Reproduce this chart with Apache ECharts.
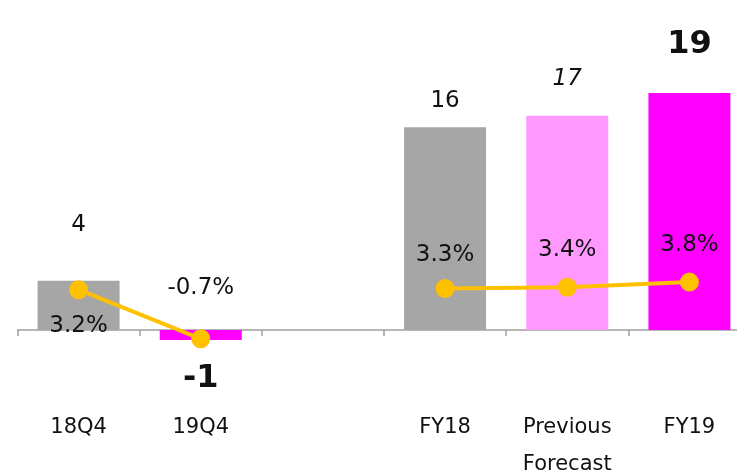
<!DOCTYPE html>
<html>
<head>
<meta charset="utf-8">
<script src="https://cdn.jsdelivr.net/npm/echarts@6/dist/echarts.min.js"></script>
<style>
  html, body { margin: 0; padding: 0; background: #fff; }
  #chart { width: 737px; height: 475px; }
</style>
</head>
<body>
<div id="chart"></div>
<script>
// data
var categories = ['18Q4', '19Q4', '', 'FY18', 'Previous\nForecast', 'FY19'];
var amounts = [3.9, -0.8, null, 16.1, 17.0, 18.8];
var ratios = [3.2, -0.7, null, 3.3, 3.4, 3.8];

// styles per bar
var barColors = ['#A6A6A6', '#FF00FF', '#A6A6A6', '#A6A6A6', '#FF99FF', '#FF00FF'];
var barLabelStyle = [
    { position: 'top', distance: 44 },
    { position: 'bottom', distance: 23, fontWeight: 'bold', fontSize: 32 },
    {},
    { position: 'top', distance: 15 },
    { position: 'top', distance: 25, fontStyle: 'italic' },
    { position: 'top', distance: 32, fontWeight: 'bold', fontSize: 32 }
];
var ratioLabelStyle = [
    { position: 'bottom', distance: 15 },
    { position: 'top', distance: 30 },
    {},
    { position: 'top', distance: 12 },
    { position: 'top', distance: 16 },
    { position: 'top', distance: 16 }
];

var font = 'DejaVu Sans';
var myChart = echarts.init(document.getElementById('chart'));

var barData = amounts.map(function (v, i) {
    return {
        value: v,
        itemStyle: { color: barColors[i] },
        label: barLabelStyle[i]
    };
});
var lineData = ratios.map(function (v, i) {
    return { value: v, label: ratioLabelStyle[i] };
});

var option = {
    animation: false,
    backgroundColor: '#fff',
    textStyle: { fontFamily: font },
    grid: {
        left: 17.5,
        right: -13.5,
        top: 27.6,
        height: 327.6,
        outerBoundsMode: 'none',
        containLabel: false
    },
    xAxis: {
        type: 'category',
        data: categories,
        axisLine: { onZero: true, lineStyle: { color: '#A0A0A0', width: 1.5 } },
        axisTick: { show: true, length: 6, lineStyle: { color: '#A0A0A0', width: 1.5 } },
        axisLabel: {
            margin: 54,
            color: '#111',
            fontSize: 21,
            lineHeight: 37,
            fontFamily: font,
            interval: 0
        },
        splitLine: { show: false }
    },
    yAxis: [{
        type: 'value',
        min: -2,
        max: 24,
        show: false
    }, {
        type: 'value',
        min: -2,
        max: 24,
        show: false
    }],
    series: [{
        name: 'amount',
        type: 'bar',
        yAxisIndex: 0,
        barWidth: 82,
        data: barData,
        label: {
            show: true,
            color: '#111',
            fontSize: 23,
            fontFamily: font,
            formatter: function (p) {
                return p.value == null ? '' : String(Math.round(p.value));
            }
        }
    }, {
        name: 'ratio',
        type: 'line',
        yAxisIndex: 1,
        data: lineData,
        connectNulls: false,
        symbol: 'circle',
        symbolSize: 19,
        itemStyle: { color: '#FFC000' },
        lineStyle: { color: '#FFC000', width: 4 },
        z: 5,
        label: {
            show: true,
            color: '#111',
            fontSize: 23,
            fontFamily: font,
            formatter: function (p) {
                return p.value == null ? '' : p.value.toFixed(1) + '%';
            }
        }
    }]
};

myChart.setOption(option);
</script>
</body>
</html>
